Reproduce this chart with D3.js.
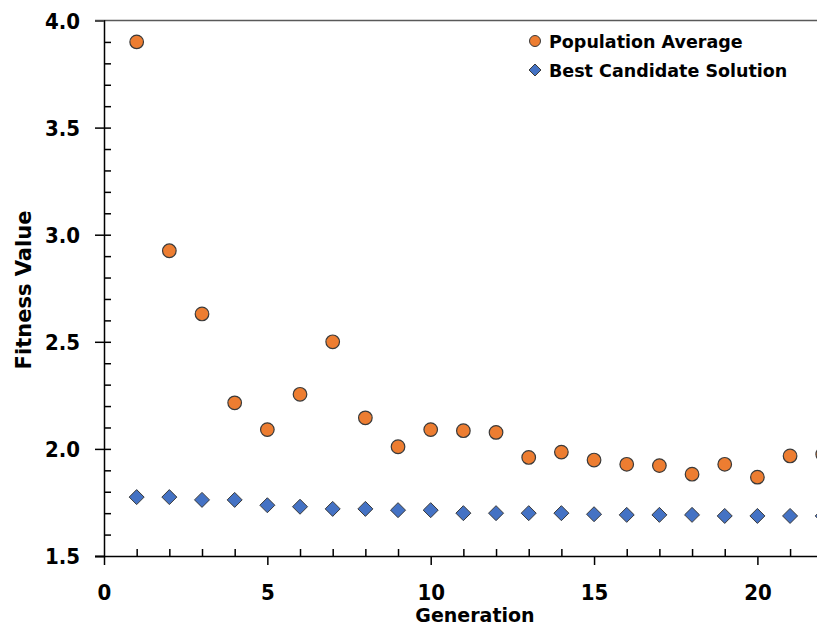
<!DOCTYPE html>
<html>
<head>
<meta charset="utf-8">
<script src="https://cdn.jsdelivr.net/npm/d3@7/dist/d3.min.js"></script>
<style>
  html, body { margin: 0; padding: 0; background: #fff; overflow: hidden; }
  svg { display: block; }
  text { font-family: "DejaVu Sans", "Liberation Sans", sans-serif; font-weight: bold; fill: #000; }
  .tick text { font-family: "DejaVu Sans Condensed", "DejaVu Sans", sans-serif; }
</style>
</head>
<body>
<svg id="chart" width="817" height="625"></svg>
<script>
// Generations 1..22
const generations = [1, 2, 3, 4, 5, 6, 7, 8, 9, 10, 11, 12, 13, 14, 15, 16, 17, 18, 19, 20, 21, 22];
// Mean fitness of the population per generation
const populationAverage = [3.90, 2.925, 2.63, 2.215, 2.09, 2.255, 2.50, 2.145, 2.01, 2.09, 2.085, 2.077, 1.96, 1.985, 1.948, 1.928, 1.922, 1.882, 1.928, 1.868, 1.967, 1.975];
// Fitness of the best individual per generation
const bestCandidate = [1.775, 1.775, 1.762, 1.762, 1.737, 1.73, 1.72, 1.72, 1.714, 1.714, 1.70, 1.70, 1.70, 1.70, 1.695, 1.692, 1.692, 1.692, 1.687, 1.687, 1.687, 1.687];
const xTicks = [0, 5, 10, 15, 20];
const yTicks = [1.5, 2.0, 2.5, 3.0, 3.5, 4.0];
const seriesNames = ["Population Average", "Best Candidate Solution"];

const svg = d3.select("#chart");
const W = 817, H = 625;
const margin = { left: 104, top: 20.5, bottom: 556 };
const unit = 32.67;

const x = d3.scaleLinear().domain([0, 22]).range([margin.left, margin.left + 22 * unit]);
const y = d3.scaleLinear().domain([1.5, 4.0]).range([margin.bottom, margin.top]);

// Top frame line
svg.append("line")
  .attr("x1", margin.left - 9).attr("x2", W)
  .attr("y1", y(4.0)).attr("y2", y(4.0))
  .attr("stroke", "#595959").attr("stroke-width", 1.5);

// Y axis: major ticks outside, minor ticks inside
const yAxis = svg.append("g").attr("transform", `translate(${margin.left},0)`)
  .call(d3.axisLeft(y).tickValues(yTicks).tickFormat(d3.format(".1f")).tickSize(9).tickPadding(15));
yAxis.select(".domain").attr("stroke", "#000").attr("stroke-width", 1.5);
yAxis.selectAll(".tick line").attr("stroke", "#000").attr("stroke-width", 1.5);
yAxis.selectAll(".tick text").style("font-size", "22px").attr("dy", "0.36em");
yAxis.selectAll(".tick").filter(d => d === 4.0).select("line").attr("stroke", "#595959");

const yMinor = d3.range(15, 41).map(v => v / 10).filter(v => v < 4.0 && v > 1.5);
svg.append("g").attr("transform", `translate(${margin.left},0)`)
  .call(d3.axisRight(y).tickValues(yMinor).tickSize(7).tickFormat(""))
  .call(g => g.select(".domain").remove())
  .selectAll(".tick line").attr("stroke", "#000").attr("stroke-width", 1.5);

// X axis: major ticks outside, minor ticks inside
const xAxis = svg.append("g").attr("transform", `translate(0,${margin.bottom})`)
  .call(d3.axisBottom(x).tickValues(xTicks).tickFormat(d3.format("d")).tickSize(9).tickPadding(19));
xAxis.select(".domain").attr("stroke", "#000").attr("stroke-width", 1.5)
  .attr("d", `M${margin.left - 9},0.5H${W + 10}`);
xAxis.selectAll(".tick line").attr("stroke", "#000").attr("stroke-width", 1.5);
xAxis.selectAll(".tick text").style("font-size", "22px");

const xMinor = generations.filter(v => v % 5 !== 0);
svg.append("g").attr("transform", `translate(0,${margin.bottom})`)
  .call(d3.axisTop(x).tickValues(xMinor).tickSize(7).tickFormat(""))
  .call(g => g.select(".domain").remove())
  .selectAll(".tick line").attr("stroke", "#000").attr("stroke-width", 1.5);

// Axis titles
svg.append("text")
  .attr("x", 475).attr("y", 622)
  .attr("text-anchor", "middle")
  .style("font-size", "19px")
  .text("Generation");

svg.append("text")
  .attr("transform", `translate(31,290) rotate(-90)`)
  .attr("text-anchor", "middle")
  .style("font-size", "21px")
  .text("Fitness Value");

// Marker shapes
const diamond = s => `M0,${-s}L${s},0L0,${s}L${-s},0Z`;

// Best candidate series (diamonds)
svg.append("g").selectAll("path")
  .data(generations.map((g, i) => ({ g, v: bestCandidate[i] })))
  .join("path")
  .attr("transform", d => `translate(${x(d.g)},${y(d.v)})`)
  .attr("d", diamond(7.5))
  .attr("fill", "#4472C4")
  .attr("stroke", "#3a3a3a")
  .attr("stroke-width", 1);

// Population average series (circles)
svg.append("g").selectAll("circle")
  .data(generations.map((g, i) => ({ g, v: populationAverage[i] })))
  .join("circle")
  .attr("cx", d => x(d.g))
  .attr("cy", d => y(d.v))
  .attr("r", 6.8)
  .attr("fill", "#ED7D31")
  .attr("stroke", "#3a3a3a")
  .attr("stroke-width", 1.2);

// Legend
const legend = svg.append("g");
legend.append("circle").attr("cx", 535).attr("cy", 41).attr("r", 5.5)
  .attr("fill", "#ED7D31").attr("stroke", "#3a3a3a").attr("stroke-width", 1);
legend.append("path").attr("transform", "translate(535,70)").attr("d", diamond(6))
  .attr("fill", "#4472C4").attr("stroke", "#3a3a3a").attr("stroke-width", 1);
legend.append("text").attr("x", 549).attr("y", 47.5).style("font-size", "17.5px").text(seriesNames[0]);
legend.append("text").attr("x", 549).attr("y", 76.5).style("font-size", "17.5px").text(seriesNames[1]);
</script>
</body>
</html>
